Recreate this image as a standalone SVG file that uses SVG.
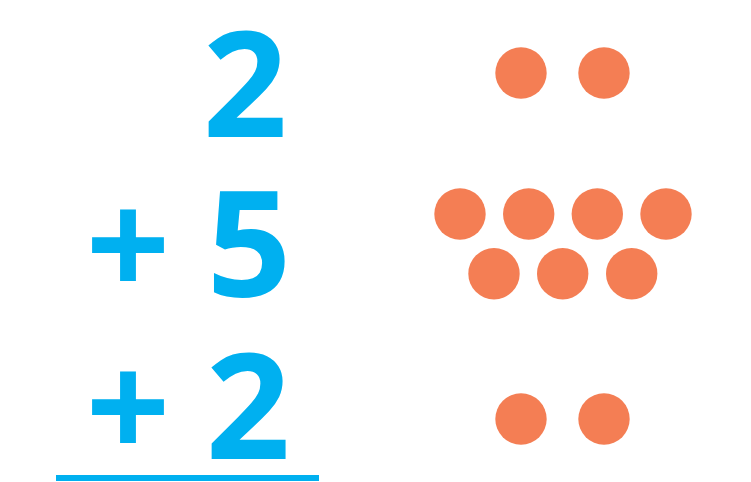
<svg xmlns="http://www.w3.org/2000/svg" width="751" height="482" viewBox="0 0 751 482">
<style>
.n{font-family:"Open Sans","Liberation Sans",sans-serif;font-weight:700;font-size:148px;fill:#00B0F0;text-anchor:middle}
.d{fill:#F47E54}
</style>
<rect width="751" height="482" fill="#FFFFFF"/>
<g id="numbers">
<text class="n" x="245" y="137">2</text>
<text class="n" y="297"><tspan x="128">+</tspan><tspan x="249">5</tspan></text>
<text class="n" y="459"><tspan x="128">+</tspan><tspan x="248">2</tspan></text>
<rect x="56" y="475" width="263" height="6" fill="#00B0F0"/>
</g>
<g id="dots-2">
<circle class="d" cx="521" cy="73" r="25.7"/>
<circle class="d" cx="604" cy="73" r="25.7"/>
</g>
<g id="dots-5">
<circle class="d" cx="460" cy="214" r="25.7"/>
<circle class="d" cx="528.7" cy="214" r="25.7"/>
<circle class="d" cx="597.3" cy="214" r="25.7"/>
<circle class="d" cx="666" cy="214" r="25.7"/>
<circle class="d" cx="494" cy="273.7" r="25.7"/>
<circle class="d" cx="562.7" cy="273.7" r="25.7"/>
<circle class="d" cx="631.7" cy="273.7" r="25.7"/>
</g>
<g id="dots-2b">
<circle class="d" cx="521" cy="419" r="25.7"/>
<circle class="d" cx="604" cy="419" r="25.7"/>
</g>
</svg>
